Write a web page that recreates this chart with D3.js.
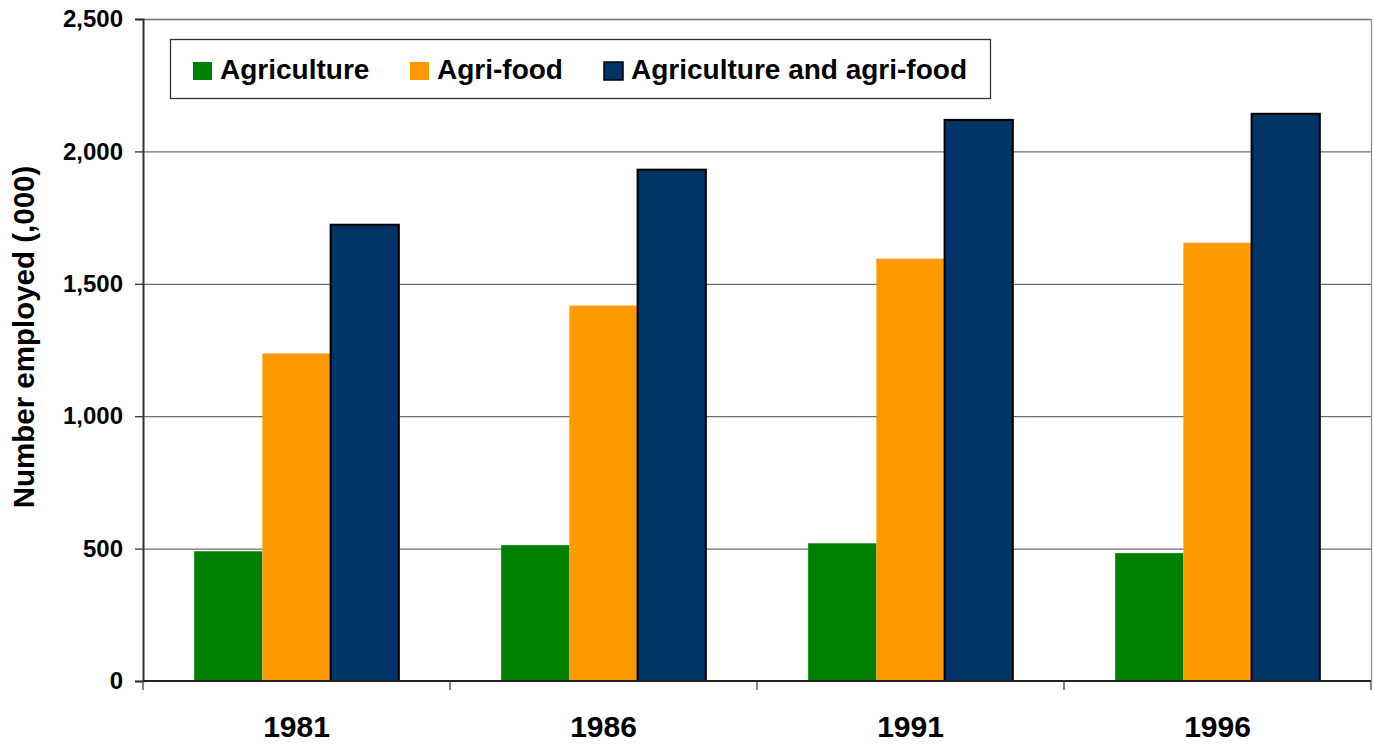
<!DOCTYPE html>
<html>
<head>
<meta charset="utf-8">
<script src="https://cdn.jsdelivr.net/npm/d3@7"></script>
<style>
  body { margin: 0; background: #fff; }
  svg { font-family: "Liberation Sans", Arial, sans-serif; font-weight: bold; }
</style>
</head>
<body>
<svg id="chart" width="1374" height="744"></svg>
<script>
const years = ["1981", "1986", "1991", "1996"];
const seriesNames = ["Agriculture", "Agri-food", "Agriculture and agri-food"];
const agriculture = [490, 513, 520, 483];
const agriFood = [1237, 1418, 1595, 1655];
const combined = [1723, 1931, 2119, 2142];
const yTicks = [0, 500, 1000, 1500, 2000, 2500];

const colors = {
  "Agriculture": "#008000",
  "Agri-food": "#FF9900",
  "Agriculture and agri-food": "#003366",
};

const seriesValues = [agriculture, agriFood, combined];
const rows = years.map((y, i) => ({
  year: y,
  values: seriesNames.map((s, j) => ({ name: s, value: seriesValues[j][i] })),
}));

const margin = { left: 143, right: 3, top: 19, bottom: 63 };
const width = 1374, height = 744;

const svg = d3.select("#chart");

const x = d3.scaleBand()
  .domain(years)
  .range([margin.left, width - margin.right])
  .paddingInner(0)
  .paddingOuter(0);

const xInner = d3.scaleBand()
  .domain(seriesNames)
  .range([0, x.bandwidth()])
  .paddingOuter(0.75)
  .paddingInner(0);

const y = d3.scaleLinear()
  .domain([0, 2500])
  .range([height - margin.bottom, margin.top]);

// gridlines
svg.append("g")
  .selectAll("line")
  .data(yTicks.filter((d) => d > 0))
  .enter()
  .append("line")
  .attr("x1", margin.left)
  .attr("x2", width - margin.right)
  .attr("y1", (d) => y(d) + 0.5)
  .attr("y2", (d) => y(d) + 0.5)
  .attr("stroke", "#6e6e6e")
  .attr("stroke-width", 1.3);

// right border
svg.append("line")
  .attr("x1", width - margin.right + 0.5)
  .attr("x2", width - margin.right + 0.5)
  .attr("y1", margin.top)
  .attr("y2", y(0))
  .attr("stroke", "#909090")
  .attr("stroke-width", 1.3);

// bars
const groups = svg.append("g")
  .selectAll("g")
  .data(rows)
  .enter()
  .append("g")
  .attr("transform", (d) => "translate(" + x(d.year) + ",0)");

groups.selectAll("rect")
  .data((d) => d.values)
  .enter()
  .append("rect")
  .attr("x", (d) => xInner(d.name))
  .attr("y", (d) => y(d.value))
  .attr("width", xInner.bandwidth())
  .attr("height", (d) => y(0) - y(d.value))
  .attr("fill", (d) => colors[d.name])
  .attr("stroke", (d) => d.name === "Agriculture and agri-food" ? "#000" : "none")
  .attr("stroke-width", 2);

// y axis
const yAxis = d3.axisLeft(y)
  .tickValues(yTicks)
  .tickSize(8)
  .tickPadding(12)
  .tickFormat(d3.format(","));

const yG = svg.append("g")
  .attr("transform", "translate(" + margin.left + ",0)")
  .call(yAxis);
yG.select(".domain").attr("stroke", "#333").attr("stroke-width", 2);
yG.selectAll(".tick line").attr("stroke", "#333").attr("stroke-width", 1.3);
yG.selectAll("text")
  .attr("font-size", 24)
  .attr("font-weight", "bold")
  .attr("font-family", "Liberation Sans, Arial, sans-serif")
  .attr("fill", "#000");

// x axis line and ticks at category boundaries
svg.append("line")
  .attr("x1", margin.left)
  .attr("x2", width - margin.right)
  .attr("y1", y(0))
  .attr("y2", y(0))
  .attr("stroke", "#222")
  .attr("stroke-width", 2);

const bounds = years.map((d) => x(d)).concat([x(years[years.length - 1]) + x.bandwidth()]);
svg.append("g")
  .selectAll("line")
  .data(bounds)
  .enter()
  .append("line")
  .attr("x1", (d) => d)
  .attr("x2", (d) => d)
  .attr("y1", y(0))
  .attr("y2", y(0) + 9)
  .attr("stroke", "#444")
  .attr("stroke-width", 1.3);

svg.append("g")
  .selectAll("text")
  .data(years)
  .enter()
  .append("text")
  .attr("x", (d) => x(d) + x.bandwidth() / 2)
  .attr("y", 737)
  .attr("text-anchor", "middle")
  .attr("font-size", 30)
  .text((d) => d);

// y axis title
svg.append("text")
  .attr("transform", "translate(34,337) rotate(-90)")
  .attr("text-anchor", "middle")
  .attr("font-size", 29.5)
  .text("Number employed (,000)");

// legend
const legend = svg.append("g").attr("id", "legend");
legend.append("rect")
  .attr("x", 170.5)
  .attr("y", 39.5)
  .attr("width", 820)
  .attr("height", 59)
  .attr("fill", "#fff")
  .attr("stroke", "#333")
  .attr("stroke-width", 1.3);

const legendX = [193, 410, 604];
const items = legend.selectAll("g.item")
  .data(seriesNames)
  .enter()
  .append("g")
  .attr("class", "item")
  .attr("transform", (d, i) => "translate(" + legendX[i] + ",0)");

items.append("rect")
  .attr("x", 0)
  .attr("y", 62)
  .attr("width", 19)
  .attr("height", 18)
  .attr("fill", (d) => colors[d])
  .attr("stroke", (d) => d === "Agriculture and agri-food" ? "#000" : "none")
  .attr("stroke-width", 1.5);

items.append("text")
  .attr("x", 27)
  .attr("y", 79)
  .attr("font-size", 28)
  .text((d) => d);
</script>
</body>
</html>
